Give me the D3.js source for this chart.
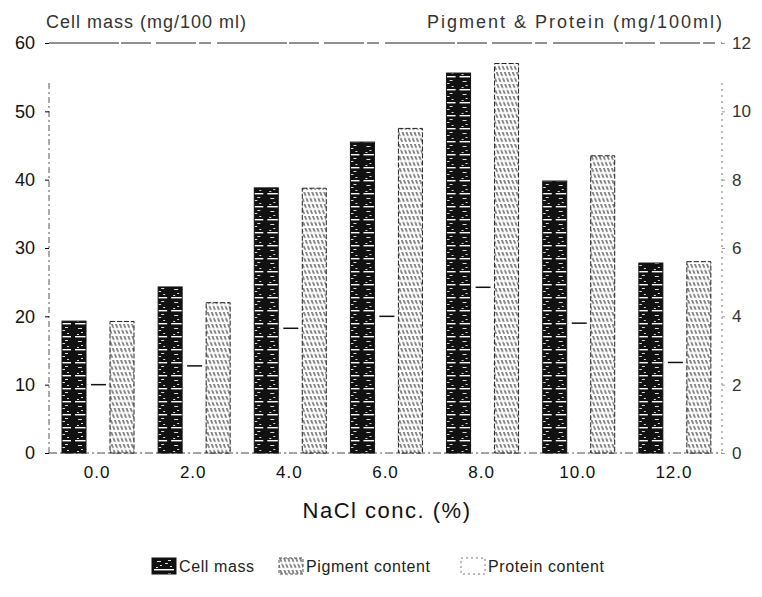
<!DOCTYPE html>
<html lang="en">
<head>
<meta charset="UTF-8">
<title>NaCl conc. vs cell mass</title>
<style>
    body { margin: 0; background: #fff; }
    svg text { font-family: "Liberation Sans", Arial, sans-serif; fill: #111; }
</style>
</head>
<body>
<svg id="chart" width="762" height="597"></svg>
<script src="https://d3js.org/d3.v7.min.js"></script>
<script>
// values
var conc = ["0.0", "2.0", "4.0", "6.0", "8.0", "10.0", "12.0"];
var cellMass = [19.3, 24.3, 38.8, 45.5, 55.6, 39.8, 27.8];      // left axis, mg/100 ml
var protein = [2.0, 2.55, 3.65, 4.0, 4.85, 3.8, 2.65];          // right axis
var pigment = [3.85, 4.4, 7.75, 9.5, 11.4, 8.7, 5.6];           // right axis
var leftTicks = [0, 10, 20, 30, 40, 50, 60];
var rightTicks = [0, 2, 4, 6, 8, 10, 12];

var svg = d3.select("#chart"),
    plotL = 49, plotR = 722, plotT = 43, plotB = 453;

var x0 = d3.scaleBand().domain(conc).range([plotL, plotR]),
    x1 = d3.scaleBand().domain(["cell", "protein", "pigment"]).range([13, 85]),
    yL = d3.scaleLinear().domain([0, 60]).range([plotB, plotT]),
    yR = d3.scaleLinear().domain([0, 12]).range([plotB, plotT]);

// patterns for the scanned-looking fills
var defs = svg.append("defs");
var dark = defs.append("pattern").attr("id", "dark")
    .attr("patternUnits", "userSpaceOnUse").attr("width", 24).attr("height", 13);
dark.append("rect").attr("width", 24).attr("height", 13).attr("fill", "#111");
dark.append("rect").attr("x", 2).attr("y", 11).attr("width", 20).attr("height", 1.4).attr("fill", "#fff");
[[5, 3, 4], [13, 5, 3], [8, 7, 2], [16, 2, 3], [4, 9, 2], [18, 8, 2]].forEach(function (p) {
    dark.append("rect").attr("x", p[0]).attr("y", p[1]).attr("width", p[2]).attr("height", 1)
        .attr("fill", "#ddd");
});

var hatch = defs.append("pattern").attr("id", "hatch")
    .attr("patternUnits", "userSpaceOnUse").attr("width", 4).attr("height", 12)
    .attr("patternTransform", "skewX(20)");
hatch.append("rect").attr("width", 4).attr("height", 12).attr("fill", "#fff");
hatch.append("line").attr("x1", 1).attr("y1", 0).attr("x2", 1).attr("y2", 12)
    .attr("stroke", "#222").attr("stroke-width", 1.1).attr("stroke-dasharray", "4,2");

// axis frame
svg.append("line").attr("x1", plotL).attr("x2", plotR).attr("y1", plotT).attr("y2", plotT)
    .attr("stroke", "#222").attr("stroke-width", 1.2).attr("stroke-dasharray", "70,2,30,5,40,3,12,6");
svg.append("line").attr("x1", plotL).attr("x2", plotL).attr("y1", plotT + 40).attr("y2", plotB)
    .attr("stroke", "#555").attr("stroke-width", 1).attr("stroke-dasharray", "6,3,2,3");
svg.append("line").attr("x1", plotR).attr("x2", plotR).attr("y1", plotT + 40).attr("y2", plotB)
    .attr("stroke", "#777").attr("stroke-width", 1).attr("stroke-dasharray", "2,4");
svg.append("line").attr("x1", plotL).attr("x2", plotR).attr("y1", plotB).attr("y2", plotB)
    .attr("stroke", "#444").attr("stroke-width", 1).attr("stroke-dasharray", "8,3,2,3");

var leftAxis = svg.append("g").attr("transform", "translate(" + plotL + ",0)")
    .call(d3.axisLeft(yL).tickValues(leftTicks).tickSize(4).tickPadding(10));
leftAxis.select(".domain").remove();
leftAxis.selectAll("text").style("font-size", "18px");

var rightAxis = svg.append("g").attr("transform", "translate(" + plotR + ",0)")
    .call(d3.axisRight(yR).tickValues(rightTicks).tickSize(3).tickPadding(7));
rightAxis.select(".domain").remove();
rightAxis.selectAll("line").attr("stroke", "#999");
rightAxis.selectAll("text").style("font-size", "17px").style("fill", "#333");

var bottomAxis = svg.append("g").attr("transform", "translate(0," + plotB + ")")
    .call(d3.axisBottom(x0).tickSize(0).tickPadding(13));
bottomAxis.select(".domain").remove();
bottomAxis.selectAll("text").style("font-size", "17px").style("letter-spacing", "1px");

// bars
var groups = svg.selectAll(".grp").data(conc).enter().append("g")
    .attr("transform", function (d) { return "translate(" + x0(d) + ",0)"; });

groups.append("rect")
    .attr("x", x1("cell")).attr("width", x1.bandwidth())
    .attr("y", function (d, i) { return yL(cellMass[i]); })
    .attr("height", function (d, i) { return plotB - yL(cellMass[i]); })
    .attr("fill", "url(#dark)").attr("stroke", "#111");

groups.append("rect")
    .attr("x", x1("protein") + 1).attr("width", x1.bandwidth() - 2)
    .attr("y", function (d, i) { return yR(protein[i]); })
    .attr("height", function (d, i) { return plotB - yR(protein[i]); })
    .attr("fill", "none").attr("stroke", "#ccc").attr("stroke-dasharray", "1,6");
groups.append("line")
    .attr("x1", x1("protein") + 5).attr("x2", x1("protein") + 20)
    .attr("y1", function (d, i) { return yR(protein[i]); })
    .attr("y2", function (d, i) { return yR(protein[i]); })
    .attr("stroke", "#111").attr("stroke-width", 1.5);

groups.append("rect")
    .attr("x", x1("pigment")).attr("width", x1.bandwidth())
    .attr("y", function (d, i) { return yR(pigment[i]); })
    .attr("height", function (d, i) { return plotB - yR(pigment[i]); })
    .attr("fill", "url(#hatch)").attr("stroke", "#222").attr("stroke-width", 1)
    .attr("stroke-dasharray", "5,2");

// titles
svg.append("text").attr("x", 46).attr("y", 28).style("font-size", "18px")
    .style("letter-spacing", "1px").style("fill", "#333").text("Cell mass (mg/100 ml)");
svg.append("text").attr("x", 724).attr("y", 28).attr("text-anchor", "end")
    .style("font-size", "18px").style("letter-spacing", "2px")
    .style("fill", "#333").text("Pigment & Protein (mg/100ml)");
svg.append("text").attr("x", 387).attr("y", 518).attr("text-anchor", "middle")
    .style("font-size", "22px").style("letter-spacing", "1.5px").text("NaCl conc. (%)");

// legend
var legendItems = [
    { label: "Cell mass", x: 152, fill: "url(#dark)", stroke: "#111", dash: null },
    { label: "Pigment content", x: 279, fill: "url(#hatch)", stroke: "#555", dash: "3,2" },
    { label: "Protein content", x: 461, fill: "#fff", stroke: "#777", dash: "2,3" }
];
var legend = svg.selectAll(".leg").data(legendItems).enter().append("g")
    .attr("transform", function (d) { return "translate(" + d.x + ",558)"; });
legend.append("rect").attr("width", 24).attr("height", 16)
    .attr("fill", function (d) { return d.fill; })
    .attr("stroke", function (d) { return d.stroke; })
    .attr("stroke-dasharray", function (d) { return d.dash; });
legend.append("text").attr("x", 27).attr("y", 14).style("font-size", "16px")
    .style("letter-spacing", "0.6px")
    .style("fill", "#222").text(function (d) { return d.label; });
</script>
</body>
</html>
